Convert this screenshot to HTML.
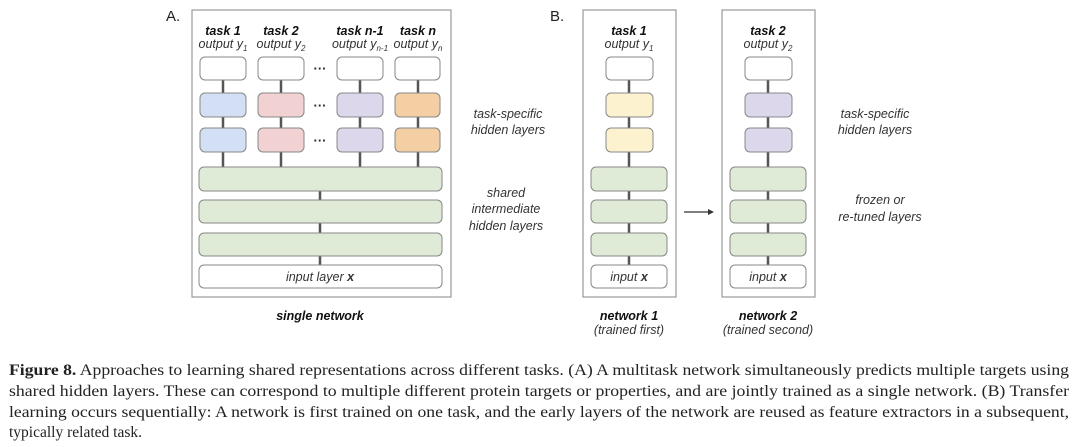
<!DOCTYPE html>
<html><head><meta charset="utf-8"><style>
html,body{margin:0;padding:0;background:#fff;}
svg{display:block;}
.l{font-family:"Liberation Sans",sans-serif;font-size:12.5px;fill:#333;font-style:italic;}
.b{font-family:"Liberation Sans",sans-serif;font-size:12.5px;fill:#111;font-style:italic;font-weight:bold;}
.c{font-family:"Liberation Serif",serif;font-size:15.5px;fill:#222;}
</style></head><body>
<svg width="1080" height="447" viewBox="0 0 1080 447">
<g stroke="#555" stroke-width="2.5">
<line x1="223" y1="80" x2="223" y2="167"/><line x1="281" y1="80" x2="281" y2="167"/>
<line x1="360" y1="80" x2="360" y2="167"/><line x1="418" y1="80" x2="418" y2="167"/>
<line x1="320" y1="190" x2="320" y2="266"/>
<line x1="629" y1="80" x2="629" y2="266"/>
<line x1="768" y1="80" x2="768" y2="266"/>
</g>
<g fill="none" stroke="#999" stroke-width="1.2">
<rect x="192" y="10" width="259" height="287"/>
<rect x="583" y="10" width="93" height="287"/>
<rect x="722" y="10" width="93" height="287"/>
</g>
<g stroke="#888" stroke-width="1">
<rect x="200" y="57" width="46" height="23" rx="5" fill="#fff"/>
<rect x="258" y="57" width="46" height="23" rx="5" fill="#fff"/>
<rect x="337" y="57" width="46" height="23" rx="5" fill="#fff"/>
<rect x="395" y="57" width="45" height="23" rx="5" fill="#fff"/>
<rect x="200" y="93" width="46" height="24" rx="5" fill="#d3dff5"/>
<rect x="200" y="128" width="46" height="24" rx="5" fill="#d3dff5"/>
<rect x="258" y="93" width="46" height="24" rx="5" fill="#f1d1d1"/>
<rect x="258" y="128" width="46" height="24" rx="5" fill="#f1d1d1"/>
<rect x="337" y="93" width="46" height="24" rx="5" fill="#dcd7eb"/>
<rect x="337" y="128" width="46" height="24" rx="5" fill="#dcd7eb"/>
<rect x="395" y="93" width="45" height="24" rx="5" fill="#f3cfa3"/>
<rect x="395" y="128" width="45" height="24" rx="5" fill="#f3cfa3"/>
<rect x="199" y="167" width="243" height="24" rx="5" fill="#dfebd7"/>
<rect x="199" y="200" width="243" height="23" rx="5" fill="#dfebd7"/>
<rect x="199" y="233" width="243" height="23" rx="5" fill="#dfebd7"/>
<rect x="199" y="265" width="243" height="23" rx="5" fill="#fff"/>

<rect x="606" y="57" width="47" height="23" rx="5" fill="#fff"/>
<rect x="606" y="93" width="47" height="24" rx="5" fill="#fcf2cf"/>
<rect x="606" y="128" width="47" height="24" rx="5" fill="#fcf2cf"/>
<rect x="591" y="167" width="76" height="24" rx="5" fill="#dfebd7"/>
<rect x="591" y="200" width="76" height="23" rx="5" fill="#dfebd7"/>
<rect x="591" y="233" width="76" height="23" rx="5" fill="#dfebd7"/>
<rect x="591" y="265" width="76" height="23" rx="5" fill="#fff"/>

<rect x="745" y="57" width="47" height="23" rx="5" fill="#fff"/>
<rect x="745" y="93" width="47" height="24" rx="5" fill="#dcd7eb"/>
<rect x="745" y="128" width="47" height="24" rx="5" fill="#dcd7eb"/>
<rect x="730" y="167" width="76" height="24" rx="5" fill="#dfebd7"/>
<rect x="730" y="200" width="76" height="23" rx="5" fill="#dfebd7"/>
<rect x="730" y="233" width="76" height="23" rx="5" fill="#dfebd7"/>
<rect x="730" y="265" width="76" height="23" rx="5" fill="#fff"/>
</g>
<g font-family="Liberation Sans,sans-serif" font-weight="bold" font-size="13" fill="#222" text-anchor="middle">
<text x="320" y="73">···</text><text x="320" y="110">···</text><text x="320" y="145">···</text>
</g>
<line x1="684" y1="212" x2="708" y2="212" stroke="#333" stroke-width="1.2"/>
<polygon points="708,209 714,212 708,215" fill="#333"/>
<text x="166" y="21" font-family="Liberation Sans,sans-serif" font-size="15" fill="#222">A.</text>
<text x="550" y="21" font-family="Liberation Sans,sans-serif" font-size="15" fill="#222">B.</text>
<g text-anchor="middle">
<text class="b" x="223" y="35">task 1</text><text class="l" x="223" y="48">output y<tspan font-size="8" dy="3">1</tspan></text>
<text class="b" x="281" y="35">task 2</text><text class="l" x="281" y="48">output y<tspan font-size="8" dy="3">2</tspan></text>
<text class="b" x="360" y="35">task n-1</text><text class="l" x="360" y="48">output y<tspan font-size="8" dy="3">n-1</tspan></text>
<text class="b" x="418" y="35">task n</text><text class="l" x="418" y="48">output y<tspan font-size="8" dy="3">n</tspan></text>
<text class="l" x="508" y="118">task-specific</text><text class="l" x="508" y="134">hidden layers</text>
<text class="l" x="506" y="197">shared</text><text class="l" x="506" y="213">intermediate</text><text class="l" x="506" y="230">hidden layers</text>
<text class="l" x="320" y="281" fill="#222">input layer <tspan font-weight="bold">x</tspan></text>
<text class="b" x="320" y="320">single network</text>
<text class="b" x="629" y="35">task 1</text><text class="l" x="629" y="48">output y<tspan font-size="8" dy="3">1</tspan></text>
<text class="b" x="768" y="35">task 2</text><text class="l" x="768" y="48">output y<tspan font-size="8" dy="3">2</tspan></text>
<text class="l" x="629" y="281">input <tspan font-weight="bold">x</tspan></text>
<text class="l" x="768" y="281">input <tspan font-weight="bold">x</tspan></text>
<text class="b" x="629" y="320">network 1</text><text class="l" x="629" y="334">(trained first)</text>
<text class="b" x="768" y="320">network 2</text><text class="l" x="768" y="334">(trained second)</text>
<text class="l" x="875" y="118">task-specific</text><text class="l" x="875" y="134">hidden layers</text>
<text class="l" x="880" y="204">frozen or</text><text class="l" x="880" y="221">re-tuned layers</text>
</g>
<text class="c" x="9" y="375" textLength="1060" lengthAdjust="spacingAndGlyphs"><tspan font-weight="bold">Figure 8.</tspan> Approaches to learning shared representations across different tasks. (A) A multitask network simultaneously predicts multiple targets using</text>
<text class="c" x="9" y="396" textLength="1060" lengthAdjust="spacingAndGlyphs">shared hidden layers. These can correspond to multiple different protein targets or properties, and are jointly trained as a single network. (B) Transfer</text>
<text class="c" x="9" y="417" textLength="1060" lengthAdjust="spacingAndGlyphs">learning occurs sequentially: A network is first trained on one task, and the early layers of the network are reused as feature extractors in a subsequent,</text>
<text class="c" x="9" y="437">typically related task.</text>
</svg>
</body></html>
